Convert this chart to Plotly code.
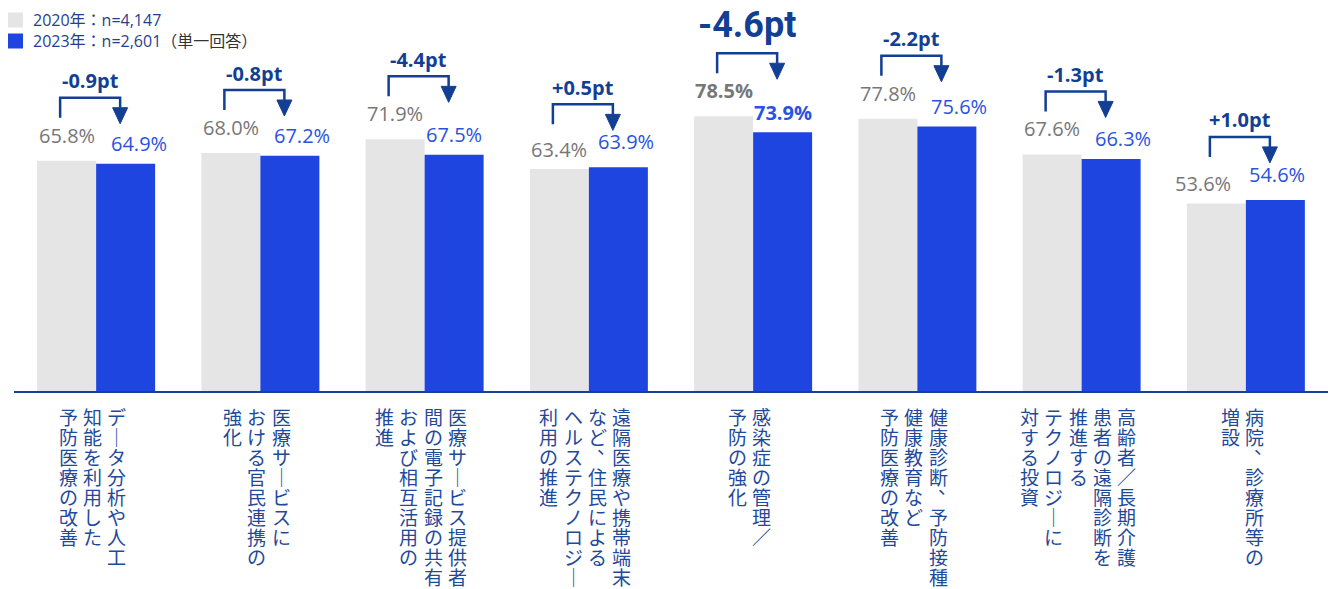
import plotly.graph_objects as go

# Survey items; each inner list is one vertical column of the label (read right to left)
label_columns = [
    ["データ分析や人工", "知能を利用した", "予防医療の改善"],
    ["医療サービスに", "おける官民連携の", "強化"],
    ["医療サービス提供者", "間の電子記録の共有", "および相互活用の", "推進"],
    ["遠隔医療や携帯端末", "など、住民による", "ヘルステクノロジー", "利用の推進"],
    ["感染症の管理／", "予防の強化"],
    ["健康診断、予防接種、", "健康教育など", "予防医療の改善"],
    ["高齢者／長期介護", "患者の遠隔診断を", "推進する", "テクノロジーに", "対する投資"],
    ["病院、診療所等の", "増設"],
]
values_2020 = [65.8, 68.0, 71.9, 63.4, 78.5, 77.8, 67.6, 53.6]
values_2023 = [64.9, 67.2, 67.5, 63.9, 73.9, 75.6, 66.3, 54.6]
legend_2020 = "2020年：n=4,147"
legend_2023 = "2023年：n=2,601"
legend_note = "（単一回答）"

categories = ["".join(cols) for cols in label_columns]
HIGHLIGHT = 4  # item whose change is emphasised

GRAY = "#e5e5e5"
BLUE = "#1f45e0"
NAVY = "#123f94"
GRAY_TXT = "#777777"
BLUE_TXT = "#2a52e2"
CAT_TXT = "#1f4a9b"
LATIN = "Open Sans, Noto Sans CJK JP, sans-serif"
CJK = "Noto Sans CJK JP, sans-serif"
NARROW = "Roboto, Liberation Sans, sans-serif"

# plot area in page pixels
L, R, T, B = 14, 4, 41, 198
W, H = 1332, 589
PW, PH = W - L - R, H - T - B


def px_x(x):
    return (x - L) / PW


def px_y(y):
    return (H - B - y) / PH


fig = go.Figure()
fig.add_trace(go.Bar(x=categories, y=values_2020, marker=dict(color=GRAY, line=dict(width=0)),
                     name=legend_2020, hoverinfo="skip"))
fig.add_trace(go.Bar(x=categories, y=values_2023, marker=dict(color=BLUE, line=dict(width=0)),
                     name=legend_2023, hoverinfo="skip"))

annotations = []
shapes = []

# horizontal nudges of the value labels (pixels)
gray_nudge = [0, 0, 0, 0, 0, 0, 0, -13]
blue_nudge = [13, 12, 0, 8, 0, 12, 12, 2]
HALF = 29.5  # half bar width in pixels

for i, cat in enumerate(categories):
    v0, v1 = values_2020[i], values_2023[i]
    bold = i == HIGHLIGHT
    hi0 = v0 >= v1
    for v, dx, col, hi in ((v0, -HALF + gray_nudge[i], GRAY_TXT, hi0),
                           (v1, HALF + blue_nudge[i], BLUE_TXT, not hi0)):
        txt = f"{v:.1f}%"
        if bold:
            txt = f"<b>{txt}</b>"
        annotations.append(dict(
            x=cat, y=v, xref="x", yref="y", text=txt, showarrow=False,
            xanchor="center", yanchor="middle", xshift=dx, yshift=25.5 if hi else 20,
            font=dict(family=LATIN, size=20, color=col)))

    # bracket with arrow from the 2020 bar to the 2023 bar
    vmax = max(v0, v1)
    lx, rx, top = -36, 24, 63
    shapes.append(dict(
        type="path", xref="x", yref="y", xsizemode="pixel", ysizemode="pixel",
        xanchor=i, yanchor=vmax,
        path=f"M {lx},{top - 20} L {lx},{top} L {rx},{top} L {rx},{top - 10}",
        line=dict(color=NAVY, width=2.5), fillcolor="rgba(0,0,0,0)"))
    shapes.append(dict(
        type="path", xref="x", yref="y", xsizemode="pixel", ysizemode="pixel",
        xanchor=i, yanchor=vmax,
        path=f"M {rx - 7.5},{top - 10} L {rx + 7.5},{top - 10} L {rx},{top - 26} Z",
        line=dict(color=NAVY, width=1), fillcolor=NAVY))

    diff = v1 - v0
    dtxt = f"{diff:+.1f}pt"
    if bold:
        annotations.append(dict(
            x=cat, y=vmax, xref="x", yref="y", text=f"<b>{dtxt}</b>", showarrow=False,
            xanchor="center", yanchor="middle", xshift=(lx + rx) / 2, yshift=top + 28,
            font=dict(family=NARROW, size=36, color=NAVY)))
    else:
        annotations.append(dict(
            x=cat, y=vmax, xref="x", yref="y", text=f"<b>{dtxt}</b>", showarrow=False,
            xanchor="center", yanchor="middle", xshift=(lx + rx) / 2, yshift=top + 17,
            font=dict(family=LATIN, size=20, color=NAVY)))

    # vertical category label, one glyph per 20px cell
    cols = label_columns[i]
    n = len(cols)
    for k, column in enumerate(cols):
        cx = -3.5 + ((n - 1) / 2 - k) * 24.3
        for r, ch in enumerate(column):
            dx, dy = 0, 0
            if ch == "ー":
                ch = "｜"
            elif ch == "、":
                dx, dy = 9, 11
            annotations.append(dict(
                x=cat, y=0, xref="x", yref="paper", text=ch, showarrow=False,
                xanchor="center", yanchor="middle", xshift=cx + dx,
                yshift=-(25 + 20 * r) + dy,
                font=dict(family=CJK, size=19, color=CAT_TXT)))

# legend
for y_c, color, label in ((20, GRAY, legend_2020),
                          (41, BLUE, f"{legend_2023}<span style='color:#333333'>{legend_note}</span>")):
    shapes.append(dict(type="rect", xref="paper", yref="paper",
                       x0=px_x(8), x1=px_x(23), y0=px_y(y_c - 7.5), y1=px_y(y_c + 7.5),
                       line=dict(width=0), fillcolor=color))
    annotations.append(dict(x=px_x(31), y=px_y(y_c), xref="paper", yref="paper",
                            text=label, showarrow=False, xanchor="left", yanchor="middle",
                            font=dict(family=LATIN, size=16, color="#1f3f8f")))

fig.update_layout(
    width=W, height=H,
    margin=dict(l=L, r=R, t=T, b=B, pad=0),
    paper_bgcolor="white", plot_bgcolor="white",
    barmode="group", bargap=0.2816, bargroupgap=0,
    showlegend=False,
    xaxis=dict(showticklabels=False, ticks="", showgrid=False, zeroline=False,
               showline=True, linecolor="#1b3f96", linewidth=2),
    yaxis=dict(range=[0, 100], visible=False, showgrid=False, zeroline=False),
    annotations=annotations,
    shapes=shapes,
)

fig.write_html("out.html")
